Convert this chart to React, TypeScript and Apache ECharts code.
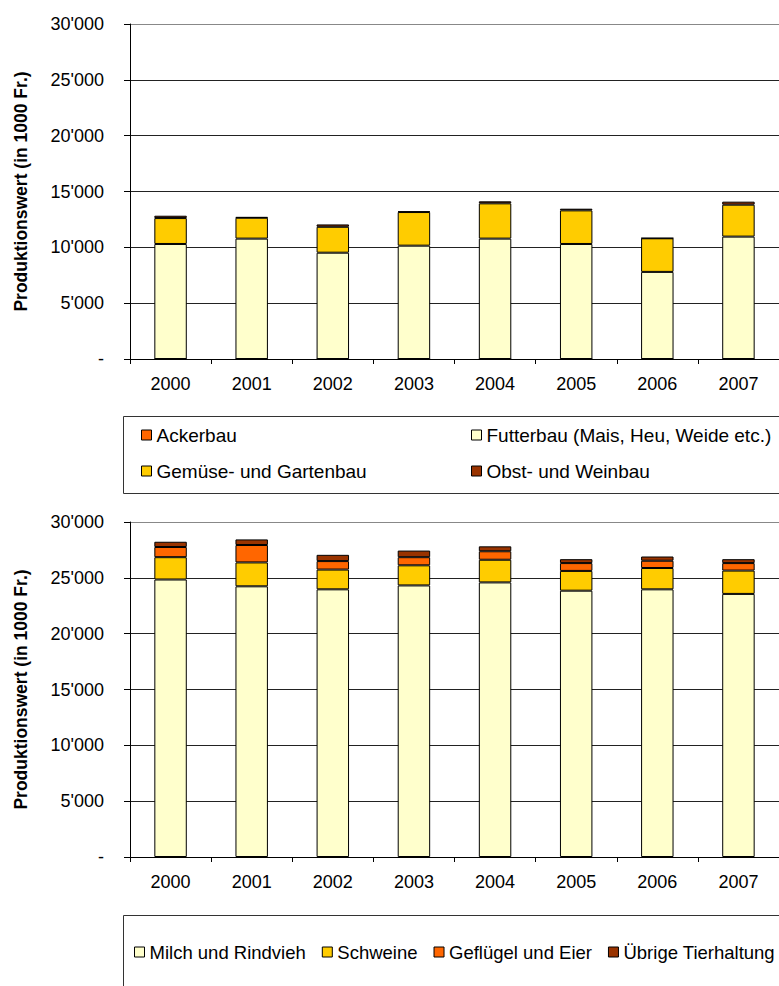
import React, { useEffect, useRef } from "react";
import * as echarts from "echarts";

const years = ["2000", "2001", "2002", "2003", "2004", "2005", "2006", "2007"];

// Pflanzenbau (top chart)
const ackerbau = [0, 0, 0, 0, 0, 0, 0, 0];
const futterbau = [10300, 10780, 9520, 10150, 10780, 10300, 7800, 10960];
const gemuese = [2320, 1870, 2320, 3010, 3160, 3010, 3010, 2860];
const obst = [210, 60, 210, 60, 180, 150, 20, 270];

// Tierhaltung (bottom chart)
const milch = [24850, 24240, 23970, 24320, 24590, 23850, 23970, 23560];
const schweine = [2000, 2140, 1770, 1800, 2030, 1770, 1910, 2090];
const gefluegel = [910, 1560, 760, 730, 760, 700, 650, 670];
const uebrige = [470, 500, 560, 590, 440, 350, 380, 350];

const FONT = "'Liberation Sans', Arial, sans-serif";
const C_LIGHT = "#FFFFCC";
const C_GOLD = "#FFCC00";
const C_ORANGE = "#FF6600";
const C_BROWN = "#993300";

function fmt(v: number): string {
  if (v === 0) return "-";
  const s = String(v);
  return s.replace(/\B(?=(\d{3})+(?!\d))/g, "'");
}

export default function App() {
  const ref = useRef<HTMLDivElement>(null);
  useEffect(() => {
    if (!ref.current) return;
    const chart = echarts.init(ref.current, null, { renderer: "svg" });

    const xAxisBase = (gridIndex: number) => ({
      type: "category",
      gridIndex,
      data: years,
      axisLine: { lineStyle: { color: "#000", width: 1 } },
      axisTick: { show: true, length: 5, lineStyle: { color: "#000" } },
      axisLabel: { color: "#000", fontSize: 18, fontFamily: FONT, margin: 16 },
    });
    const yAxisBase = (gridIndex: number) => ({
      type: "value",
      gridIndex,
      min: 0,
      max: 30000,
      interval: 5000,
      name: "Produktionswert (in 1000 Fr.)",
      nameLocation: "middle",
      nameGap: 100,
      nameTextStyle: { color: "#000", fontSize: 17.5, fontWeight: "bold", fontFamily: FONT },
      axisLine: { show: true, lineStyle: { color: "#000", width: 1 } },
      axisTick: { show: true, length: 6, lineStyle: { color: "#000" } },
      axisLabel: { color: "#000", fontSize: 18, fontFamily: FONT, margin: 26, formatter: (v: number) => fmt(v) },
      splitLine: {
        show: true,
        lineStyle: { color: ["#000", "#222", "#222", "#222", "#222", "#222", "#888"], width: 1 },
      },
    });

    const mkSeries = (name: string, data: number[], color: string, idx: number, stack: string) => ({
      name,
      type: "bar",
      stack,
      xAxisIndex: idx,
      yAxisIndex: idx,
      data,
      barCategoryGap: "60%",
      itemStyle: { color, borderColor: "#000", borderWidth: 1 },
    });

    const legendBase = (fontSize: number) => ({
      padding: 0,
      itemWidth: 10,
      itemHeight: 10,
      icon: "rect",
      itemStyle: { borderColor: "#000", borderWidth: 1 },
      textStyle: { color: "#000", fontSize, fontFamily: FONT, lineHeight: 20 },
      selectedMode: false,
    });

    chart.setOption({
      animation: false,
      grid: [
        { left: 130, top: 24, right: -7, height: 335, containLabel: false },
        { left: 130, top: 522, right: -7, height: 335, containLabel: false },
      ],
      xAxis: [xAxisBase(0), xAxisBase(1)],
      yAxis: [yAxisBase(0), yAxisBase(1)],
      legend: [
        { ...legendBase(19), data: ["Ackerbau"], left: 141, top: 425 },
        { ...legendBase(19), data: ["Futterbau (Mais, Heu, Weide etc.)"], left: 471, top: 425 },
        { ...legendBase(19), data: ["Gemüse- und Gartenbau"], left: 141, top: 461 },
        { ...legendBase(19), data: ["Obst- und Weinbau"], left: 471, top: 461 },
        {
          ...legendBase(18.5),
          data: ["Milch und Rindvieh", "Schweine", "Geflügel und Eier", "Übrige Tierhaltung"],
          left: 134,
          top: 942,
          itemGap: 16,
        },
      ],
      graphic: [
        {
          type: "rect",
          silent: true,
          shape: { x: 123.5, y: 416.5, width: 700, height: 77 },
          style: { fill: "none", stroke: "#333", lineWidth: 1 },
        },
        {
          type: "rect",
          silent: true,
          shape: { x: 123.5, y: 915.5, width: 700, height: 120 },
          style: { fill: "none", stroke: "#333", lineWidth: 1 },
        },
      ],
      series: [
        mkSeries("Ackerbau", ackerbau, C_ORANGE, 0, "pflanzen"),
        mkSeries("Futterbau (Mais, Heu, Weide etc.)", futterbau, C_LIGHT, 0, "pflanzen"),
        mkSeries("Gemüse- und Gartenbau", gemuese, C_GOLD, 0, "pflanzen"),
        mkSeries("Obst- und Weinbau", obst, C_BROWN, 0, "pflanzen"),
        mkSeries("Milch und Rindvieh", milch, C_LIGHT, 1, "tiere"),
        mkSeries("Schweine", schweine, C_GOLD, 1, "tiere"),
        mkSeries("Geflügel und Eier", gefluegel, C_ORANGE, 1, "tiere"),
        mkSeries("Übrige Tierhaltung", uebrige, C_BROWN, 1, "tiere"),
      ],
    });
    return () => chart.dispose();
  }, []);

  return (
    <div
      ref={ref}
      style={{ position: "absolute", left: 0, top: 0, width: 779, height: 986, background: "#fff" }}
    />
  );
}
